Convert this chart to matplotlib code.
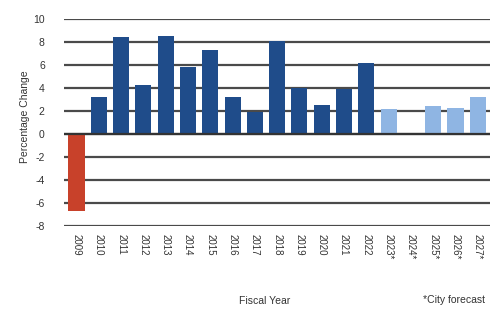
import matplotlib
matplotlib.use("Agg")
import matplotlib.pyplot as plt

plt.rcParams['font.family'] = ['Liberation Sans', 'DejaVu Sans']

years = ["2009", "2010", "2011", "2012", "2013", "2014", "2015", "2016", "2017",
         "2018", "2019", "2020", "2021", "2022", "2023*", "2024*", "2025*", "2026*", "2027*"]
values = [-6.7, 3.25, 8.4, 4.3, 8.55, 5.8, 7.3, 3.2, 1.9, 8.1, 4.0, 2.5, 3.9, 6.2,
          2.15, 0.0, 2.4, 2.3, 3.2]
kinds = ["neg"] + ["actual"] * 13 + ["forecast"] * 5
palette = {"neg": "#C8412A", "actual": "#1F4C8A", "forecast": "#8FB5E3"}
yticks = [10, 8, 6, 4, 2, 0, -2, -4, -6, -8]

fig = plt.figure(figsize=(4.94, 3.12), dpi=100)
ax = fig.add_axes([0.13, 0.276, 0.862, 0.663])

x = list(range(len(years)))
ax.bar(x, values, width=0.72, color=[palette[k] for k in kinds], zorder=3)

ax.set_ylim(-8, 10)
ax.set_xlim(-0.55, len(years) - 0.45)
ax.set_yticks(yticks)
ax.set_yticklabels([str(v) for v in yticks], fontsize=7.5, color="#333333")
ax.grid(axis="y", color="#4a4a4a", linewidth=1.6, zorder=1)
ax.axhline(0, color="#333333", linewidth=1.6, zorder=4)
for s in ax.spines.values():
    s.set_visible(False)
ax.tick_params(axis="y", length=0, pad=14)
ax.set_xticks(x)
ax.set_xticklabels(years, rotation=270, fontsize=7, color="#333333")
ax.tick_params(axis="x", length=0, pad=6)

fig.text(0.05, 0.625, "Percentage Change", rotation=90, fontsize=7.5, color="#333333",
         ha="center", va="center")
fig.text(0.535, 0.035, "Fiscal Year", fontsize=7.5, color="#333333", ha="center", va="center")
fig.text(0.92, 0.04, "*City forecast", fontsize=7.5, color="#333333", ha="center", va="center")

fig.savefig("out.png", dpi=100)
